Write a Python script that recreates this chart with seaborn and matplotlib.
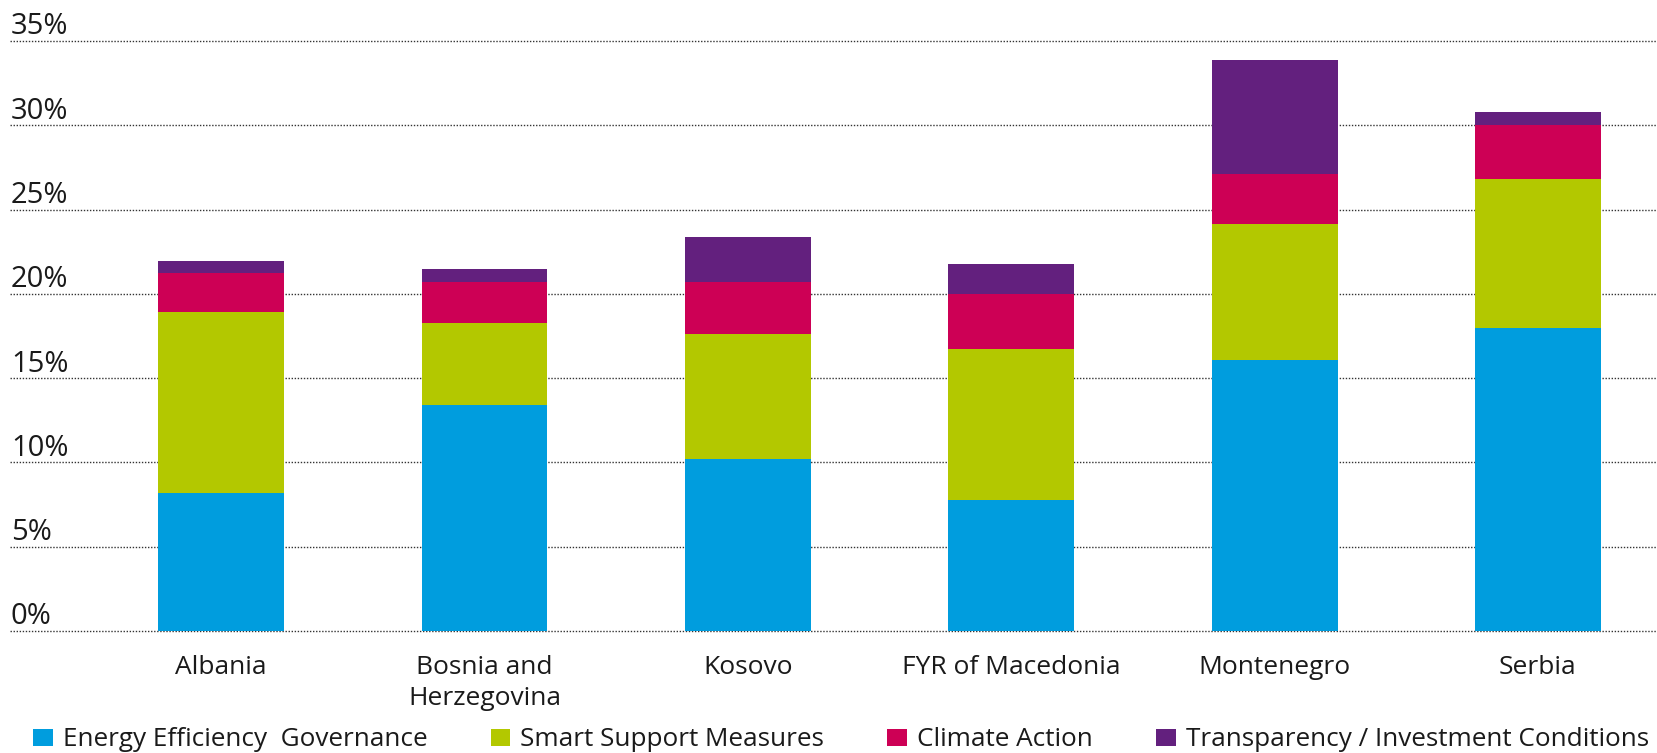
import matplotlib
matplotlib.use("Agg")
import matplotlib.pyplot as plt
from matplotlib.transforms import ScaledTranslation
import numpy as np
import pandas as pd
import seaborn as sns

# ---- data ----
countries = ["Albania", "Bosnia and\nHerzegovina", "Kosovo", "FYR of Macedonia", "Montenegro", "Serbia"]
series_names = ["Energy Efficiency  Governance", "Smart Support Measures", "Climate Action",
                "Transparency / Investment Conditions"]
ee_governance = [8.2, 13.4, 10.2, 7.8, 16.1, 18.0]
smart_support = [10.7, 4.9, 7.4, 8.95, 8.05, 8.8]
climate_action = [2.35, 2.4, 3.1, 3.25, 2.95, 3.2]
transparency = [0.7, 0.8, 2.7, 1.75, 6.75, 0.8]
y_ticks = [0, 5, 10, 15, 20, 25, 30, 35]
y_tick_labels = ["0%", "5%", "10%", "15%", "20%", "25%", "30%", "35%"]
colors = ["#009DDE", "#B3C800", "#CD0055", "#63207E"]

sns.set_theme(style="white")
plt.rcParams["font.family"] = ["Open Sans", "DejaVu Sans"]
text_color = "#1a1a1a"

W, H = 1658, 753
fig = plt.figure(figsize=(W / 100, H / 100), dpi=100)
ax = fig.add_axes([10.5 / W, 122 / H, 1 - 10.5 / W, (631 - 41) / H])

series = [ee_governance, smart_support, climate_action, transparency]
cum = np.cumsum(np.array(series), axis=0)
df = pd.DataFrame({"country": countries})
for i in range(len(series)):
    df[f"c{i}"] = cum[i]

# draw from tallest (cumulative) down so that lower segments sit on top
for i in reversed(range(len(series))):
    sns.barplot(data=df, x="country", y=f"c{i}", color=colors[i], width=0.478,
                errorbar=None, saturation=1, label=series_names[i], ax=ax,
                edgecolor="none", linewidth=0)

handles, labels = ax.get_legend_handles_labels()
if ax.get_legend() is not None:
    ax.get_legend().remove()

ax.set_xlim(-0.80, 5.456)
ax.set_ylim(0, 35)
ax.set_xlabel("")
ax.set_ylabel("")
for s in ax.spines.values():
    s.set_visible(False)

ax.set_axisbelow(True)
ax.yaxis.grid(True, linestyle=(0, (1, 1.2)), color="#333333", linewidth=1.0)
ax.xaxis.grid(False)
for gl in ax.get_ygridlines():
    gl.set_clip_on(False)

ax.set_yticks(y_ticks)
ax.set_yticklabels(y_tick_labels, fontsize=21, color=text_color)
ax.tick_params(axis="y", length=0, pad=0)
offset = ScaledTranslation(0.005, 0.065, fig.dpi_scale_trans)
for lab in ax.get_yticklabels():
    lab.set_horizontalalignment("left")
    lab.set_verticalalignment("baseline")
    lab.set_transform(lab.get_transform() + offset)

fs = 19
ax.set_xticks(range(len(countries)))
ax.set_xticklabels(countries, fontsize=fs, color=text_color, linespacing=1.34)
ax.tick_params(axis="x", length=0, pad=17)

order = [labels.index(n) for n in series_names]
fig.legend([handles[i] for i in order], [labels[i] for i in order],
           loc="center left", bbox_to_anchor=(33 / W, 13 / H), ncol=4,
           frameon=False, fontsize=18.8, handlelength=0.76, handleheight=0.64,
           handletextpad=0.38, columnspacing=2.42, borderpad=0, borderaxespad=0,
           labelcolor=text_color)

fig.savefig("out.png", dpi=100)
